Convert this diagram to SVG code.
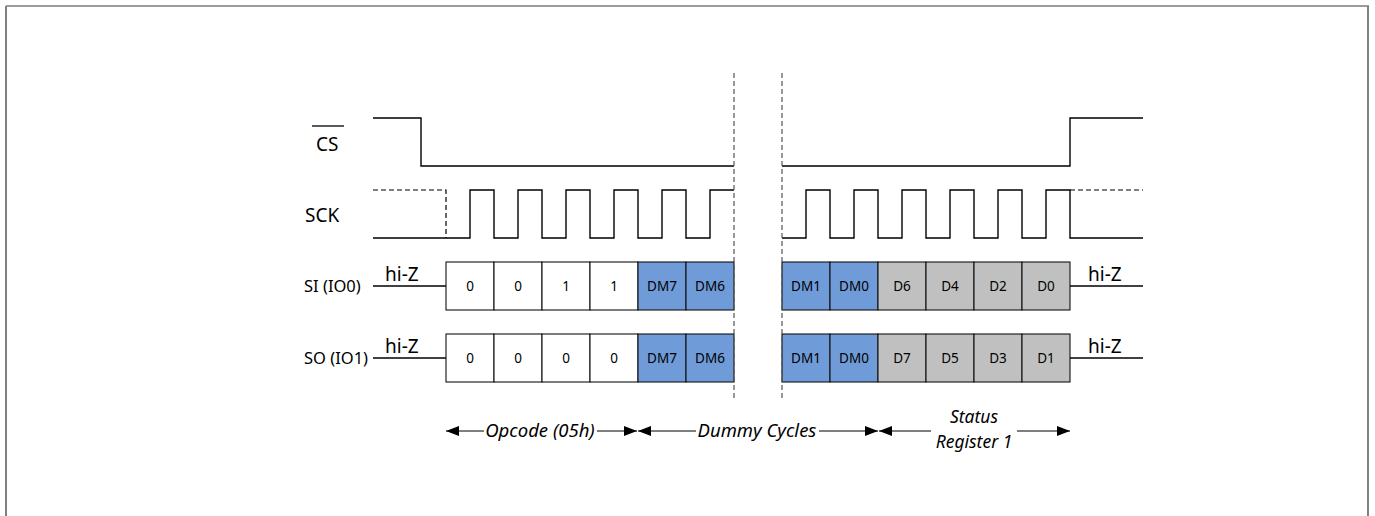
<svg xmlns="http://www.w3.org/2000/svg" width="1375" height="516" viewBox="0 0 1375 516">
<style>
.sig{fill:none;stroke:#000;stroke-width:1.4}
.dsh{fill:none;stroke:#000;stroke-width:1.2;stroke-dasharray:5 3}
.sep{fill:none;stroke:#555;stroke-width:1.2;stroke-dasharray:5 3}
.cell{stroke:#111;stroke-width:1.1}
.w{fill:#fff}
.b{fill:#6f9bd8}
.g{fill:#c0c0c0}
.lbl{font-family:'Noto Sans','Open Sans',sans-serif;font-size:19px;fill:#000}
.lbs{font-family:'Noto Sans','Open Sans',sans-serif;font-size:16.5px;fill:#000}
.ct{font-family:'Noto Sans','Open Sans',sans-serif;font-size:13.5px;fill:#000;text-anchor:middle}
.it{font-family:'Noto Sans','Open Sans',sans-serif;font-size:18.5px;font-style:italic;fill:#000}
.ar{stroke:#000;stroke-width:1.1}
</style>
<defs>
<marker id="ah" viewBox="0 0 13 10" refX="13" refY="5" markerWidth="13" markerHeight="10" markerUnits="userSpaceOnUse" orient="auto-start-reverse">
<path d="M0,0 L13,5 L0,10 z" fill="#000"/>
</marker>
</defs>
<g id="frame">
<line x1="6" y1="6" x2="1369" y2="6" stroke="#3a3a3a" stroke-width="1.2"/>
<line x1="6" y1="6" x2="6" y2="516" stroke="#808080" stroke-width="2"/>
<line x1="1368" y1="6" x2="1368" y2="516" stroke="#808080" stroke-width="2"/>
</g>
<g id="labels">
<text class="lbl" x="316" y="151">CS</text>
<line x1="312" y1="126" x2="344" y2="126" stroke="#000" stroke-width="1.3"/>
<text class="lbl" x="305" y="222">SCK</text>
<text class="lbs" x="304" y="292">SI (IO0)</text>
<text class="lbs" x="304" y="364">SO (IO1)</text>
</g>
<g id="cs">
<polyline class="sig" points="373,118 421,118 421,166 734,166"/>
<polyline class="sig" points="782,166 1070,166 1070,118 1143,118"/>
</g>
<g id="sck">
<polyline class="dsh" points="373,190 446,190 446,238"/>
<polyline class="sig" points="373,238 470,238 470,190 494,190 494,238 518,238 518,190 542,190 542,238 566,238 566,190 590,190 590,238 614,238 614,190 638,190 638,238 662,238 662,190 686,190 686,238 710,238 710,190 734,190"/>
<polyline class="sig" points="782,238 806,238 806,190 830,190 830,238 854,238 854,190 878,190 878,238 902,238 902,190 926,190 926,238 950,238 950,190 974,190 974,238 998,238 998,190 1022,190 1022,238 1046,238 1046,190 1070,190 1070,238 1143,238"/>
<line class="dsh" x1="1070" y1="190" x2="1143" y2="190"/>
</g>
<g id="si">
<line class="sig" x1="373" y1="286" x2="446" y2="286"/>
<text class="lbl" x="385" y="281">hi-Z</text>
<rect class="cell w" x="446" y="262" width="48" height="48"/><text class="ct" x="470" y="291">0</text>
<rect class="cell w" x="494" y="262" width="48" height="48"/><text class="ct" x="518" y="291">0</text>
<rect class="cell w" x="542" y="262" width="48" height="48"/><text class="ct" x="566" y="291">1</text>
<rect class="cell w" x="590" y="262" width="48" height="48"/><text class="ct" x="614" y="291">1</text>
<rect class="cell b" x="638" y="262" width="48" height="48"/><text class="ct" x="662" y="291">DM7</text>
<rect class="cell b" x="686" y="262" width="48" height="48"/><text class="ct" x="710" y="291">DM6</text>
<rect class="cell b" x="782" y="262" width="48" height="48"/><text class="ct" x="806" y="291">DM1</text>
<rect class="cell b" x="830" y="262" width="48" height="48"/><text class="ct" x="854" y="291">DM0</text>
<rect class="cell g" x="878" y="262" width="48" height="48"/><text class="ct" x="902" y="291">D6</text>
<rect class="cell g" x="926" y="262" width="48" height="48"/><text class="ct" x="950" y="291">D4</text>
<rect class="cell g" x="974" y="262" width="48" height="48"/><text class="ct" x="998" y="291">D2</text>
<rect class="cell g" x="1022" y="262" width="48" height="48"/><text class="ct" x="1046" y="291">D0</text>
<line class="sig" x1="1070" y1="286" x2="1143" y2="286"/>
<text class="lbl" x="1088" y="281">hi-Z</text>
</g>
<g id="so">
<line class="sig" x1="373" y1="358" x2="446" y2="358"/>
<text class="lbl" x="385" y="353">hi-Z</text>
<rect class="cell w" x="446" y="334" width="48" height="48"/><text class="ct" x="470" y="363">0</text>
<rect class="cell w" x="494" y="334" width="48" height="48"/><text class="ct" x="518" y="363">0</text>
<rect class="cell w" x="542" y="334" width="48" height="48"/><text class="ct" x="566" y="363">0</text>
<rect class="cell w" x="590" y="334" width="48" height="48"/><text class="ct" x="614" y="363">0</text>
<rect class="cell b" x="638" y="334" width="48" height="48"/><text class="ct" x="662" y="363">DM7</text>
<rect class="cell b" x="686" y="334" width="48" height="48"/><text class="ct" x="710" y="363">DM6</text>
<rect class="cell b" x="782" y="334" width="48" height="48"/><text class="ct" x="806" y="363">DM1</text>
<rect class="cell b" x="830" y="334" width="48" height="48"/><text class="ct" x="854" y="363">DM0</text>
<rect class="cell g" x="878" y="334" width="48" height="48"/><text class="ct" x="902" y="363">D7</text>
<rect class="cell g" x="926" y="334" width="48" height="48"/><text class="ct" x="950" y="363">D5</text>
<rect class="cell g" x="974" y="334" width="48" height="48"/><text class="ct" x="998" y="363">D3</text>
<rect class="cell g" x="1022" y="334" width="48" height="48"/><text class="ct" x="1046" y="363">D1</text>
<line class="sig" x1="1070" y1="358" x2="1143" y2="358"/>
<text class="lbl" x="1088" y="353">hi-Z</text>
</g>
<g id="separators">
<line class="sep" x1="734" y1="73" x2="734" y2="400"/>
<line class="sep" x1="782" y1="73" x2="782" y2="400"/>
</g>
<g id="connectors">
<line class="ar" x1="484" y1="431" x2="446" y2="431" marker-end="url(#ah)"/>
<line class="ar" x1="597" y1="431" x2="637" y2="431" marker-end="url(#ah)"/>
<line class="ar" x1="696" y1="431" x2="638" y2="431" marker-end="url(#ah)"/>
<line class="ar" x1="819" y1="431" x2="878" y2="431" marker-end="url(#ah)"/>
<line class="ar" x1="931" y1="431" x2="879" y2="431" marker-end="url(#ah)"/>
<line class="ar" x1="1017" y1="431" x2="1070" y2="431" marker-end="url(#ah)"/>
</g>
<g id="phase-labels">
<text class="it" x="540" y="437" text-anchor="middle">Opcode (05h)</text>
<text class="it" x="757" y="437" text-anchor="middle">Dummy Cycles</text>
<text class="it" x="974" y="423" text-anchor="middle" style="font-size:17.5px">Status</text>
<text class="it" x="974" y="448" text-anchor="middle" style="font-size:17.5px">Register 1</text>
</g>
</svg>
